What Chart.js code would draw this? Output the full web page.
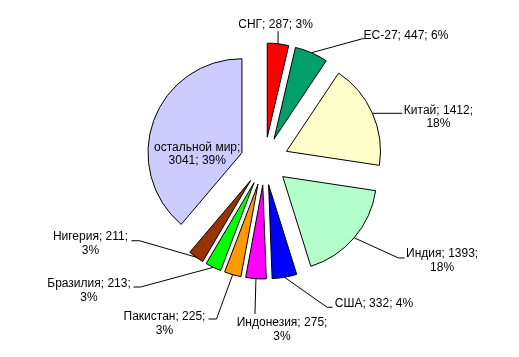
<!DOCTYPE html>
<html>
<head>
<meta charset="utf-8">
<script src="https://cdn.jsdelivr.net/npm/chart.js@4"></script>
<style>
html,body{margin:0;padding:0;background:#fff;}
#wrap{width:519px;height:357px;position:relative;}
</style>
</head>
<body>
<div id="wrap"><canvas id="c" width="519" height="357"></canvas></div>
<script>
const categories = ["СНГ", "ЕС-27", "Китай", "Индия", "США", "Индонезия", "Пакистан", "Бразилия", "Нигерия", "остальной мир"];
const values = [287, 447, 1412, 1393, 332, 275, 225, 213, 211, 3041];
const percents = [3, 6, 18, 18, 4, 3, 3, 3, 3, 39];
const colors = ["#FF0000", "#00A06A", "#FFFFCC", "#B3FFCC", "#0000FF", "#FF00FF", "#FF9900", "#00FF00", "#993300", "#CCCCFF"];

// label text lines
const labelLines = [
  ["СНГ; 287; 3%"],
  ["ЕС-27; 447; 6%"],
  ["Китай; 1412;", "18%"],
  ["Индия; 1393;", "18%"],
  ["США; 332; 4%"],
  ["Индонезия; 275;", "3%"],
  ["Пакистан; 225;", "3%"],
  ["Бразилия; 213;", "3%"],
  ["Нигерия; 211;", "3%"],
  ["остальной мир;", "3041; 39%"]
];

// label placement relative to the slice's outer mid point (text centre x, first baseline; leader path)
const labelLayout = [
  {t: [-2.5, -15.5], pts: [[0, -12.5]]},
  {t: [94.5, -13.5], pts: [[51, -14], [53, -14]]},
  {t: [66, 0.3], pts: [[30, 0]]},
  {t: [88, 19.7], pts: [[44.4, 20.2], [50.4, 20.2]]},
  {t: [89.4, 30], pts: [[42.6, 30], [48, 30]]},
  {t: [26.1, 47.8], pts: [[-1, 35.3]]},
  {t: [-68.2, 45.4], pts: [[-16.2, 44.4], [-24.2, 44.4]]},
  {t: [-124.3, 19.7], pts: [[-72.8, 19.7], [-79.8, 19.7]]},
  {t: [-105.6, -17.1], pts: [[-56.6, -16.4], [-64.6, -16.4]]},
  {t: [43.5, 30.3], pts: []}
];

const EXPLODE = 24;
const RADIUS = 94;
const LINE_H = 13.5;
const FONT = '12px "Liberation Sans", Arial, sans-serif';

// explode every slice by a constant distance along its bisector
const explodePlugin = {
  id: 'explode',
  afterDatasetUpdate(chart, args) {
    const meta = chart.getDatasetMeta(args.index);
    meta.data.forEach(arc => {
      const mid = (arc.startAngle + arc.endAngle) / 2;
      arc.x += Math.cos(mid) * EXPLODE;
      arc.y += Math.sin(mid) * EXPLODE;
    });
  }
};

const labelPlugin = {
  id: 'labels',
  afterDatasetsDraw(chart) {
    const ctx = chart.ctx;
    const meta = chart.getDatasetMeta(0);
    ctx.save();
    ctx.font = FONT;
    ctx.fillStyle = '#000';
    ctx.strokeStyle = '#000';
    ctx.lineWidth = 1;
    ctx.textAlign = 'center';
    ctx.textBaseline = 'alphabetic';
    meta.data.forEach((arc, i) => {
      const p = arc.getProps(['x', 'y', 'startAngle', 'endAngle', 'outerRadius'], true);
      const mid = (p.startAngle + p.endAngle) / 2;
      const mx = p.x + Math.cos(mid) * p.outerRadius;
      const my = p.y + Math.sin(mid) * p.outerRadius;
      const lay = labelLayout[i];
      if (lay.pts.length) {
        ctx.beginPath();
        ctx.moveTo(mx, my);
        lay.pts.forEach(pt => ctx.lineTo(mx + pt[0], my + pt[1]));
        ctx.stroke();
      }
      labelLines[i].forEach((line, k) => {
        ctx.fillText(line, mx + lay.t[0], my + lay.t[1] + k * LINE_H);
      });
    });
    ctx.restore();
  }
};

new Chart(document.getElementById('c'), {
  type: 'pie',
  data: {
    labels: categories,
    datasets: [{
      data: values,
      backgroundColor: colors,
      borderColor: '#000',
      borderWidth: 1,
      borderJoinStyle: 'miter',
      offset: 0,
      hoverOffset: 0
    }]
  },
  options: {
    responsive: false,
    animation: false,
    events: [],
    radius: RADIUS,
    layout: {padding: {left: 10, right: 0, top: 0, bottom: 35}},
    plugins: {
      legend: {display: false},
      title: {display: false},
      tooltip: {enabled: false}
    }
  },
  plugins: [explodePlugin, labelPlugin]
});
</script>
</body>
</html>
